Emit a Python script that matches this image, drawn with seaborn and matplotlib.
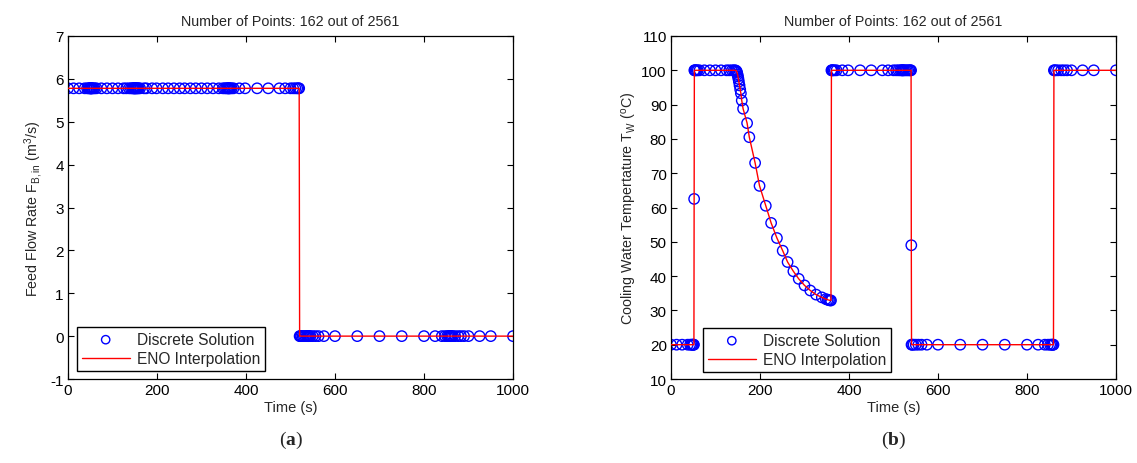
import matplotlib
matplotlib.use("Agg")
import matplotlib.pyplot as plt
import seaborn as sns

# ---------------- data ----------------
time_s = [0, 12.5, 25, 37.5, 43, 46, 48, 49.5, 50.5, 51.5,
          52, 52.5, 53.5, 55, 57.5, 60, 64, 75, 87.5, 100,
          112.5, 125, 131, 137, 141, 144, 146, 147.5, 148.5, 149.5,
          150.5, 151.5, 152.5, 154, 155.5, 157, 159, 162, 171, 176,
          189, 199, 213, 225, 238, 251, 262, 275, 287, 300,
          313, 326, 339, 348, 352, 355, 357.5, 359.5, 360.5, 361.5,
          363, 365, 368, 372, 385, 398, 425, 450, 475, 488,
          500, 506, 511, 515, 518, 519.5, 520.5, 522, 524, 527,
          530, 533, 536, 538, 539.5, 540, 540.5, 542, 545, 550,
          556, 563, 575, 600, 650, 700, 750, 800, 825, 840,
          847, 852, 855, 857, 858.5, 859.5, 860.5, 862, 865, 870,
          877, 883, 890, 900, 925, 950, 1000]

feed_flow = [5.78, 5.78, 5.78, 5.78, 5.78, 5.78, 5.78, 5.78, 5.78, 5.78,
             5.78, 5.78, 5.78, 5.78, 5.78, 5.78, 5.78, 5.78, 5.78, 5.78,
             5.78, 5.78, 5.78, 5.78, 5.78, 5.78, 5.78, 5.78, 5.78, 5.78,
             5.78, 5.78, 5.78, 5.78, 5.78, 5.78, 5.78, 5.78, 5.78, 5.78,
             5.78, 5.78, 5.78, 5.78, 5.78, 5.78, 5.78, 5.78, 5.78, 5.78,
             5.78, 5.78, 5.78, 5.78, 5.78, 5.78, 5.78, 5.78, 5.78, 5.78,
             5.78, 5.78, 5.78, 5.78, 5.78, 5.78, 5.78, 5.78, 5.78, 5.78,
             5.78, 5.78, 5.78, 5.78, 5.78, 5.78, 0, 0, 0, 0,
             0, 0, 0, 0, 0, 0, 0, 0, 0, 0,
             0, 0, 0, 0, 0, 0, 0, 0, 0, 0,
             0, 0, 0, 0, 0, 0, 0, 0, 0, 0,
             0, 0, 0, 0, 0, 0, 0]

cooling_temp = [20, 20, 20, 20, 20, 20, 20, 20, 20, 20,
                62.5, 100, 100, 100, 100, 100, 100, 100, 100, 100,
                100, 100, 100, 100, 100, 100, 99.9, 99.7, 99.3, 98.8,
                98.2, 97.5, 96.7, 95.6, 94.4, 93.3, 91.2, 88.8, 84.6, 80.5,
                73.0, 66.3, 60.5, 55.5, 51.1, 47.4, 44.1, 41.4, 39.2, 37.3,
                35.8, 34.6, 33.8, 33.3, 33.1, 33.0, 32.9, 32.9, 100, 100,
                100, 100, 100, 100, 100, 100, 100, 100, 100, 100,
                100, 100, 100, 100, 100, 100, 100, 100, 100, 100,
                100, 100, 100, 100, 100, 49, 20, 20, 20, 20,
                20, 20, 20, 20, 20, 20, 20, 20, 20, 20,
                20, 20, 20, 20, 20, 20, 100, 100, 100, 100,
                100, 100, 100, 100, 100, 100, 100]

x_ticks = [0, 200, 400, 600, 800, 1000]
left_yticks = [-1, 0, 1, 2, 3, 4, 5, 6, 7]
right_yticks = [10, 20, 30, 40, 50, 60, 70, 80, 90, 100, 110]

title_text = "Number of Points: 162 out of 2561"
left_ylabel = r"Feed Flow Rate F$\mathregular{_{B,in}}$ (m$\mathregular{^3}$/s)"
right_ylabel = r"Cooling Water Tempertature T$\mathregular{_W}$ ($\mathregular{^o}$C)"
xlabel_text = "Time (s)"
legend_labels = ["Discrete Solution", "ENO Interpolation"]

# ---------------- style ----------------
sns.set_theme(style="ticks", rc={
    "xtick.direction": "in", "ytick.direction": "in",
    "xtick.top": True, "ytick.right": True,
    "xtick.major.size": 4.5, "ytick.major.size": 4.5,
    "axes.edgecolor": "black", "axes.linewidth": 0.9,
    "xtick.color": "black", "ytick.color": "black",
})
plt.rcParams["font.family"] = ["Liberation Sans", "DejaVu Sans"]
plt.rcParams["axes.unicode_minus"] = False
plt.rcParams["mathtext.fontset"] = "custom"
plt.rcParams["mathtext.rm"] = "Liberation Sans"
plt.rcParams["mathtext.it"] = "Liberation Sans:italic"
plt.rcParams["mathtext.bf"] = "Liberation Serif:bold"

W, H = 1137, 464
fig = plt.figure(figsize=(W / 100, H / 100), dpi=100)
ax_w, ax_h = 445 / W, 343 / H
bottom = 1 - 380 / H
ax1 = fig.add_axes([68 / W, bottom, ax_w, ax_h])
ax2 = fig.add_axes([671 / W, bottom, ax_w, ax_h])


def draw(ax, yvals, ylim, yticks, ylabel, leg_anchor, ylabelpad):
    sns.scatterplot(x=time_s, y=yvals, ax=ax, marker="o", s=56,
                    facecolor="none", edgecolor="#0000ff", linewidth=1.0,
                    label=legend_labels[0], zorder=2)
    sns.lineplot(x=time_s, y=yvals, ax=ax, color="#ff0000", linewidth=1.0,
                 estimator=None, sort=False, label=legend_labels[1], zorder=3)
    ax.set_xlim(0, 1000)
    ax.set_ylim(*ylim)
    ax.set_xticks(x_ticks)
    ax.set_yticks(yticks)
    ax.tick_params(labelsize=11, width=0.8, pad=3)
    ax.set_title(title_text, fontsize=10.3, pad=8)
    ax.set_xlabel(xlabel_text, fontsize=10.5, labelpad=2)
    ax.set_ylabel(ylabel, fontsize=10.3, labelpad=ylabelpad)
    for s in ax.spines.values():
        s.set_visible(True)
        s.set_color("black")
    leg = ax.legend(loc="lower left", bbox_to_anchor=leg_anchor, borderaxespad=0,
                    frameon=True, fancybox=False, edgecolor="black", framealpha=1,
                    fontsize=11.2, handlelength=3.1, handletextpad=0.45,
                    labelspacing=0.3, borderpad=0.3, markerscale=0.8)
    leg.get_frame().set_linewidth(1.0)


draw(ax1, feed_flow, (-1, 7), left_yticks, left_ylabel, (0.02, 0.023), 4)
draw(ax2, cooling_temp, (10, 110), right_yticks, right_ylabel, (0.072, 0.02), 2)

fig.text(290.5 / W, 1 - 440 / H, r"($\mathbf{a}$)", ha="center", va="center",
         fontsize=14, family="Liberation Serif")
fig.text(893.5 / W, 1 - 440 / H, r"($\mathbf{b}$)", ha="center", va="center",
         fontsize=14, family="Liberation Serif")

fig.savefig("out.png", dpi=100)
